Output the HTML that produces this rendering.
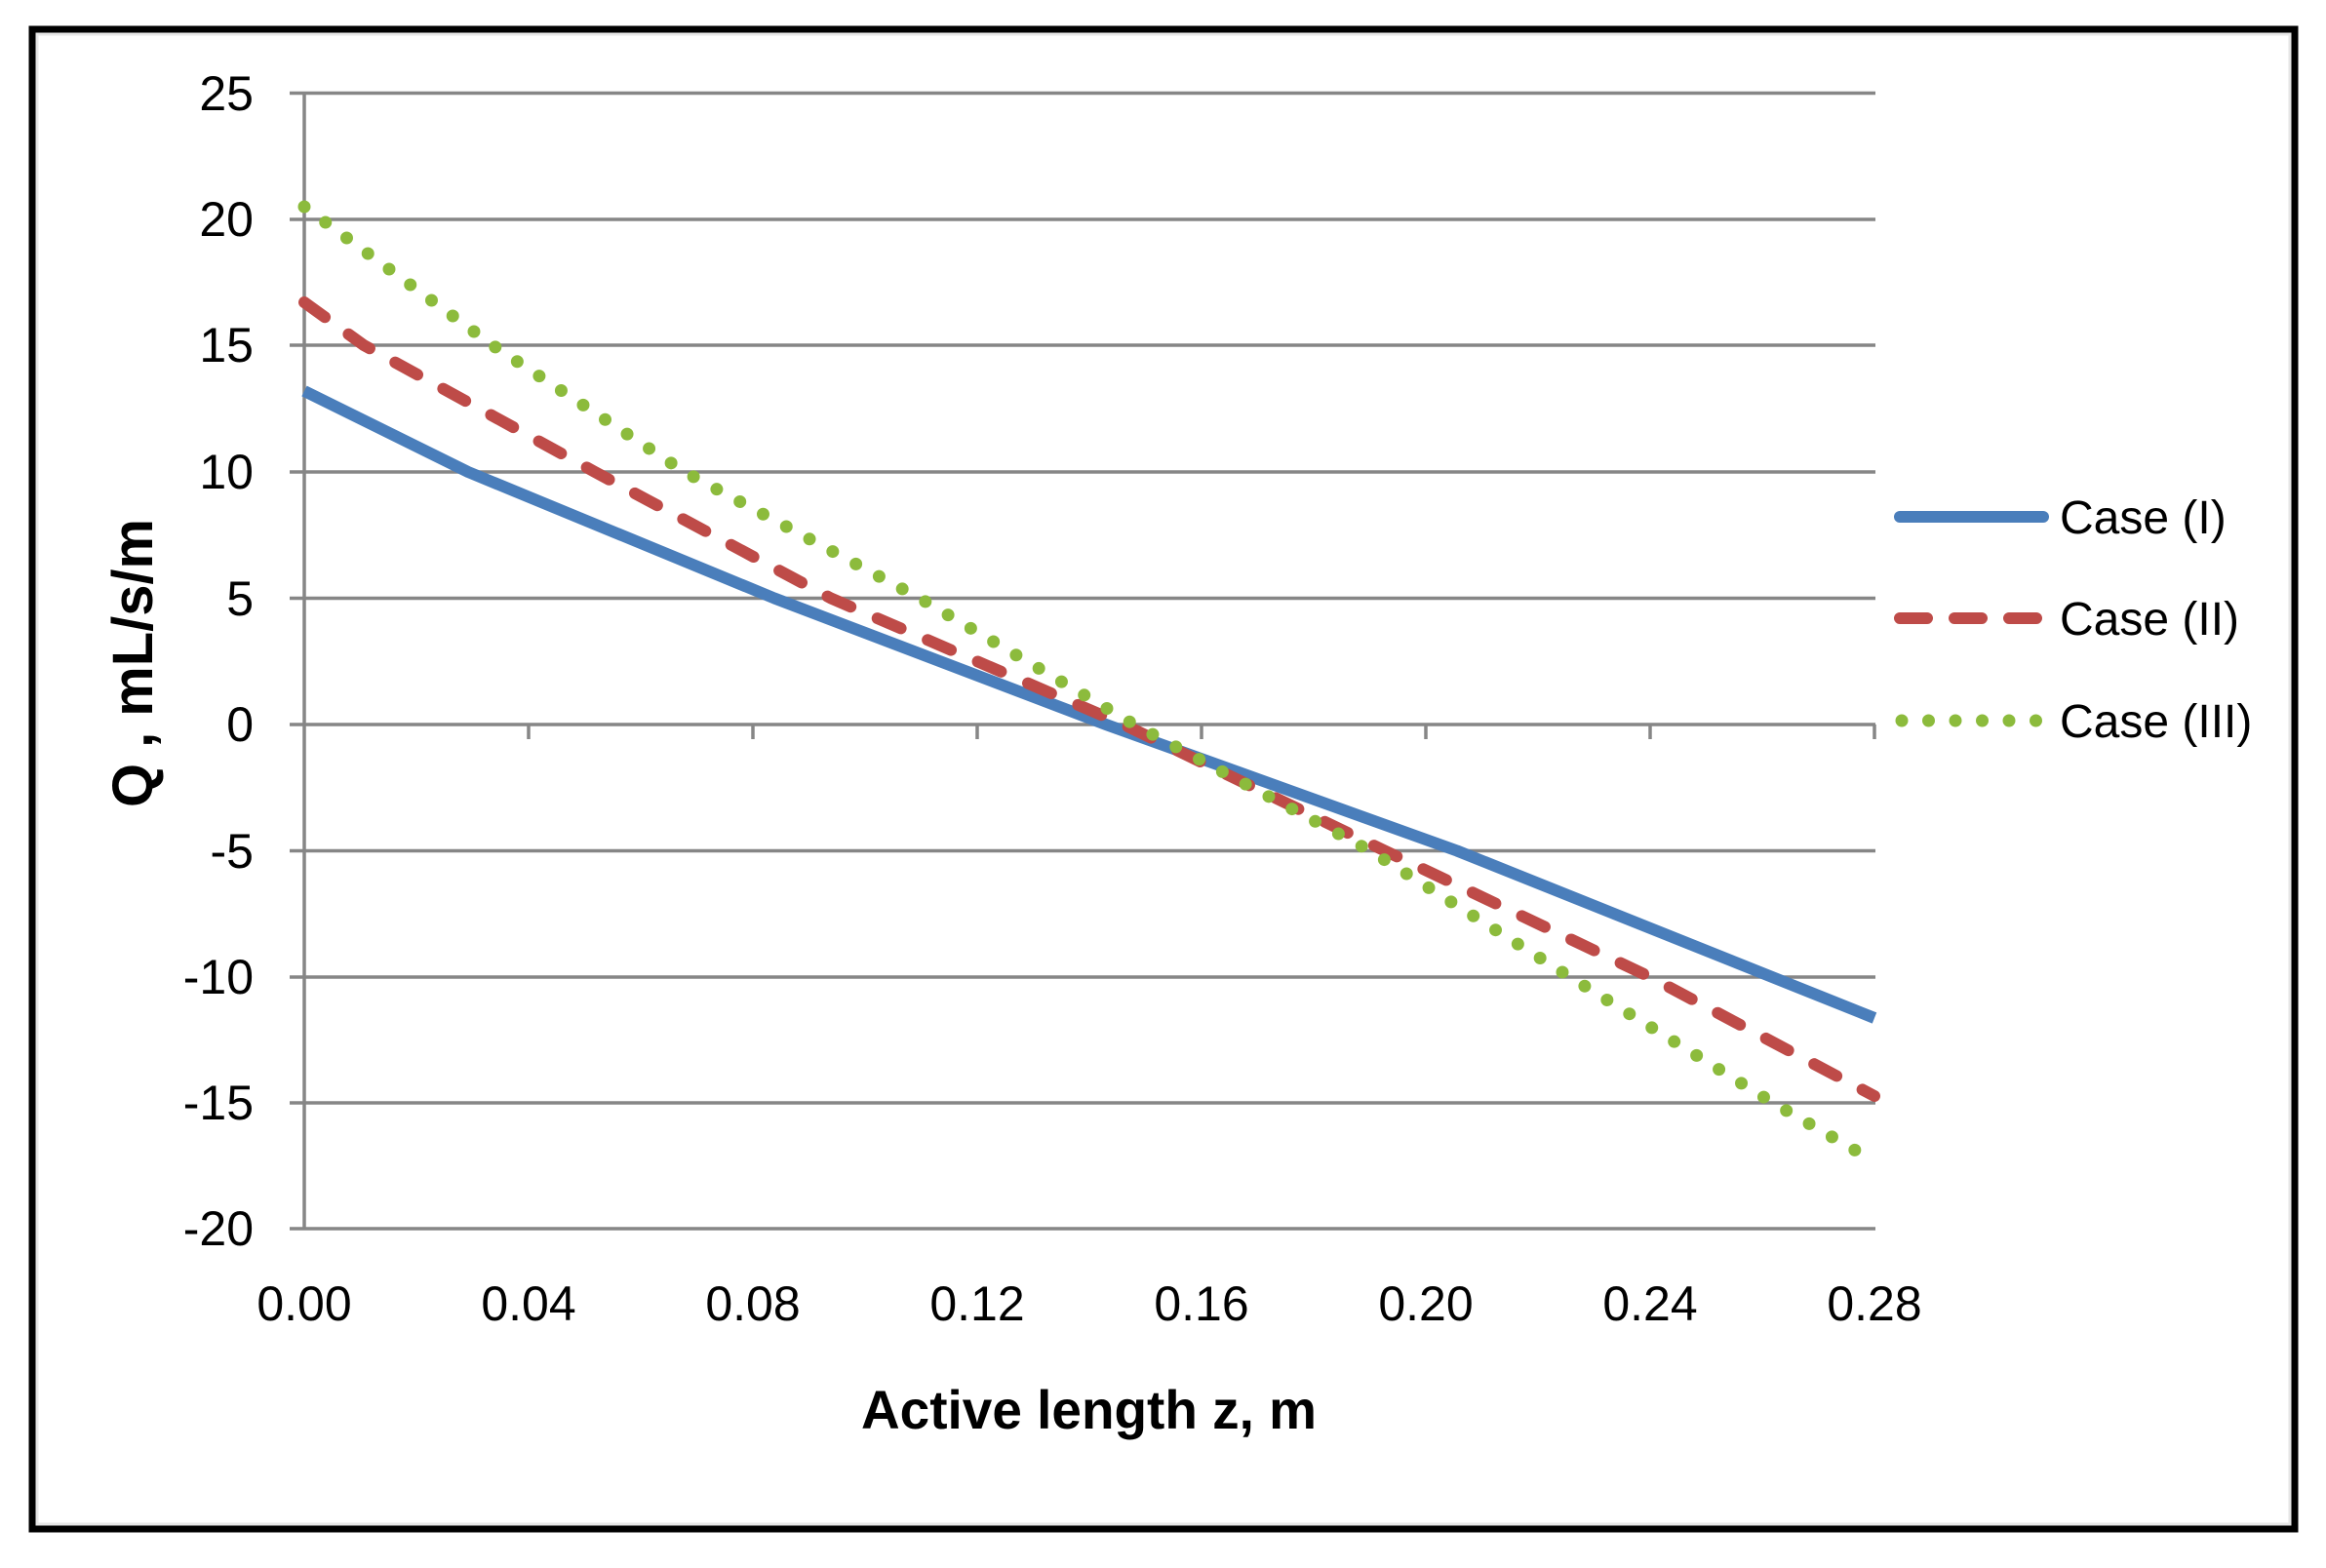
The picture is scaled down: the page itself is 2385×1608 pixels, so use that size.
<!DOCTYPE html>
<html><head><meta charset="utf-8"><style>
html,body{margin:0;padding:0;background:#fff;}
svg{display:block;}
text{font-family:"Liberation Sans",sans-serif;fill:#000;}
</style></head><body>
<svg width="2385" height="1608" viewBox="0 0 2385 1608" xmlns="http://www.w3.org/2000/svg">
<rect x="0" y="0" width="2385" height="1608" fill="#fff"/>
<rect x="33" y="30" width="2320" height="1538" fill="none" stroke="#000" stroke-width="7"/>
<rect x="38" y="35" width="2310" height="1528" fill="none" stroke="#e6e6e6" stroke-width="3"/>
<g stroke="#868686" stroke-width="3.5">
<line x1="297" y1="95.5" x2="1923" y2="95.5"/>
<line x1="297" y1="225" x2="1923" y2="225"/>
<line x1="297" y1="354" x2="1923" y2="354"/>
<line x1="297" y1="484" x2="1923" y2="484"/>
<line x1="297" y1="613.5" x2="1923" y2="613.5"/>
<line x1="297" y1="743" x2="1923" y2="743"/>
<line x1="297" y1="872.5" x2="1923" y2="872.5"/>
<line x1="297" y1="1002" x2="1923" y2="1002"/>
<line x1="297" y1="1131" x2="1923" y2="1131"/>
<line x1="297" y1="1260" x2="1923" y2="1260"/>
<line x1="312" y1="95" x2="312" y2="1261"/>
<line x1="542" y1="743" x2="542" y2="758"/>
<line x1="772" y1="743" x2="772" y2="758"/>
<line x1="1002" y1="743" x2="1002" y2="758"/>
<line x1="1232" y1="743" x2="1232" y2="758"/>
<line x1="1462" y1="743" x2="1462" y2="758"/>
<line x1="1692" y1="743" x2="1692" y2="758"/>
<line x1="1922" y1="743" x2="1922" y2="758"/>
</g>
<g font-size="50" text-anchor="end">
<text x="260" y="113">25</text>
<text x="260" y="242">20</text>
<text x="260" y="371">15</text>
<text x="260" y="501">10</text>
<text x="260" y="631">5</text>
<text x="260" y="760">0</text>
<text x="260" y="890">-5</text>
<text x="260" y="1019">-10</text>
<text x="260" y="1148">-15</text>
<text x="260" y="1277">-20</text>
</g>
<g font-size="50" text-anchor="middle">
<text x="312" y="1354">0.00</text>
<text x="542" y="1354">0.04</text>
<text x="772" y="1354">0.08</text>
<text x="1002" y="1354">0.12</text>
<text x="1232" y="1354">0.16</text>
<text x="1462" y="1354">0.20</text>
<text x="1692" y="1354">0.24</text>
<text x="1922" y="1354">0.28</text>
</g>
<text x="883" y="1465" font-size="56" font-weight="bold" textLength="467" lengthAdjust="spacingAndGlyphs">Active length z, m</text>
<text transform="translate(156,828) rotate(-90)" font-size="58" font-weight="bold" textLength="296" lengthAdjust="spacingAndGlyphs">Q , mL/s/m</text>
<!-- series -->
<polyline fill="none" stroke="#4a7ebb" stroke-width="12" stroke-linejoin="round"
 points="312,401 480,484 794,613.5 1134,743 1494,872.5 1922,1044"/>
<polyline fill="none" stroke="#be4b48" stroke-width="12" stroke-linecap="round" stroke-linejoin="round" stroke-dasharray="26 30"
 points="312,310 373,354 610,484 852,613.5 1152,743 1420,872.5 1692,1002 1922,1124"/>
<polyline fill="none" stroke="#8cbb3c" stroke-width="13" stroke-linecap="round" stroke-dasharray="0 27"
 points="312,212 505,354 702,484 943,613.5 1163,743 1405,872.5 1610,1002 1818,1131 1922,1191"/>
<!-- legend -->
<line x1="1948" y1="530" x2="2095" y2="530" stroke="#4a7ebb" stroke-width="12" stroke-linecap="round"/>
<line x1="1948" y1="634" x2="2095" y2="634" stroke="#be4b48" stroke-width="12" stroke-linecap="round" stroke-dasharray="28 28"/>
<line x1="1950" y1="739" x2="2095" y2="739" stroke="#8cbb3c" stroke-width="13" stroke-linecap="round" stroke-dasharray="0 27.5"/>
<g font-size="48">
<text x="2112" y="547">Case (I)</text>
<text x="2112" y="651">Case (II)</text>
<text x="2112" y="756">Case (III)</text>
</g>
</svg>
</body></html>
